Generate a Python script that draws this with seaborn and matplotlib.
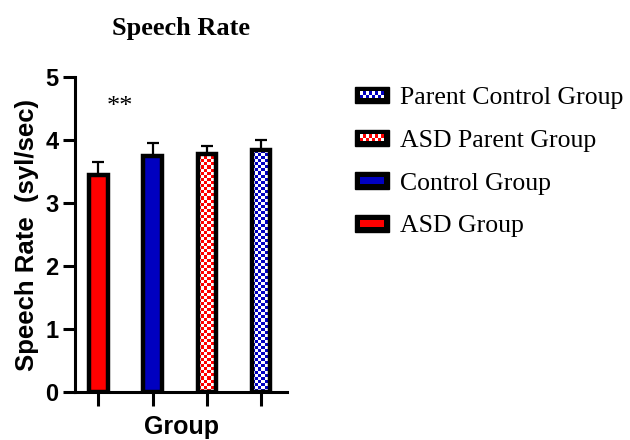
import numpy as np
import pandas as pd
import seaborn as sns
import matplotlib.pyplot as plt
from matplotlib.patches import Rectangle
from matplotlib.legend_handler import HandlerBase

groups = ['ASD Group', 'Control Group', 'ASD Parent Group', 'Parent Control Group']
means = [3.45, 3.75, 3.78, 3.84]
sems = [0.20, 0.21, 0.13, 0.16]
colors = ['#ff0000', '#0000c0', '#ff0000', '#0000c0']
checkered = [False, False, True, True]

df = pd.DataFrame({'group': groups, 'rate': means})

sns.set_style('ticks', {'axes.edgecolor': 'black', 'text.color': 'black',
                        'axes.labelcolor': 'black', 'xtick.color': 'black',
                        'ytick.color': 'black'})
plt.rcParams['font.family'] = ['Liberation Sans', 'DejaVu Sans']

fig = plt.figure(figsize=(6.3, 4.4), dpi=100)
ax = fig.add_axes([0.119, 0.109, 0.337, 0.716])

sns.barplot(data=df, x='group', y='rate', hue='group', palette=colors,
            saturation=1, width=0.34, edgecolor='black', linewidth=3.2,
            legend=False, ax=ax, zorder=3)

centers = [p.get_x() + p.get_width() / 2 for p in ax.patches]
ax.errorbar(centers, means, yerr=[np.zeros(len(sems)), sems], fmt='none',
            ecolor='black', elinewidth=1.6, capsize=4.5, capthick=1.6, zorder=2)

ax.set_xlim(-0.43, 3.48)
ax.set_ylim(0, 5)

# checkerboard fill for the parent groups
fig.canvas.draw()
for p, chk, col in zip(ax.patches, checkered, colors):
    if not chk:
        continue
    x0, y0, w, h = p.get_x(), p.get_y(), p.get_width(), p.get_height()
    px = ax.transData.transform([[x0, y0], [x0 + w, y0 + h]])
    nx = 6
    ny = int(round(nx * (px[1, 1] - px[0, 1]) / (px[1, 0] - px[0, 0])))
    board = (np.indices((ny, nx)).sum(axis=0) % 2).astype(float)
    cmap = plt.matplotlib.colors.ListedColormap(['white', col])
    im = ax.imshow(board, extent=[x0, x0 + w, y0, y0 + h], cmap=cmap,
                   aspect='auto', interpolation='nearest', zorder=2.5)
    im.set_clip_path(p)
    p.set_facecolor('none')

ax.set_xlim(-0.43, 3.48)
ax.set_ylim(0, 5)
ax.set_yticks([0, 1, 2, 3, 4, 5])
ax.set_xticks(range(4))
ax.set_xticklabels([])
ax.tick_params(axis='y', length=9, width=2.2, labelsize=17, pad=3, colors='black')
ax.tick_params(axis='x', length=10, width=2.2, colors='black')
for lab in ax.get_yticklabels():
    lab.set_fontweight('bold')
for s in ['left', 'bottom']:
    ax.spines[s].set_linewidth(2.2)
    ax.spines[s].set_color('black')
sns.despine(ax=ax)

ax.set_xlabel('Group', fontsize=18, fontweight='bold', labelpad=3, color='black')
ax.set_ylabel('Speech Rate  (syl/sec)', fontsize=18.5, fontweight='bold',
              labelpad=4, color='black')
ax.set_title('Speech Rate', fontsize=19, fontweight='bold',
             family='Liberation Serif', pad=30, color='black')
ax.text(0.39, 4.53, '**', fontsize=19, family='Liberation Serif',
        ha='center', va='center', color='black')


class BarHandle:
    def __init__(self, color, chk):
        self.color = color
        self.chk = chk


class BarHandler(HandlerBase):
    def create_artists(self, legend, h, xd, yd, width, height, fontsize, trans):
        arts = [Rectangle((-xd, -yd), width, height, facecolor='black',
                          edgecolor='black', transform=trans)]
        bx, by = -xd + width * 0.15, -yd + height * 0.3
        bw, bh = width * 0.7, height * 0.42
        if not h.chk:
            arts.append(Rectangle((bx, by), bw, bh, facecolor=h.color,
                                  edgecolor='none', transform=trans))
        else:
            nx, ny = 8, 2
            for i in range(nx):
                for j in range(ny):
                    c = h.color if (i + j) % 2 == 0 else 'white'
                    arts.append(Rectangle((bx + i * bw / nx, by + j * bh / ny),
                                          bw / nx, bh / ny, facecolor=c,
                                          edgecolor='none', transform=trans))
        return arts


handles = [BarHandle(c, k) for c, k in zip(colors, checkered)][::-1]
leg = fig.legend(handles, groups[::-1], handler_map={BarHandle: BarHandler()},
                 loc='upper left', bbox_to_anchor=(0.527, 0.855), frameon=False,
                 prop={'family': 'Liberation Serif', 'size': 18.5},
                 handlelength=1.3, handleheight=0.6, handletextpad=0.45,
                 labelspacing=0.8)
for t in leg.get_texts():
    t.set_color('black')

fig.savefig('out.png', dpi=100)
